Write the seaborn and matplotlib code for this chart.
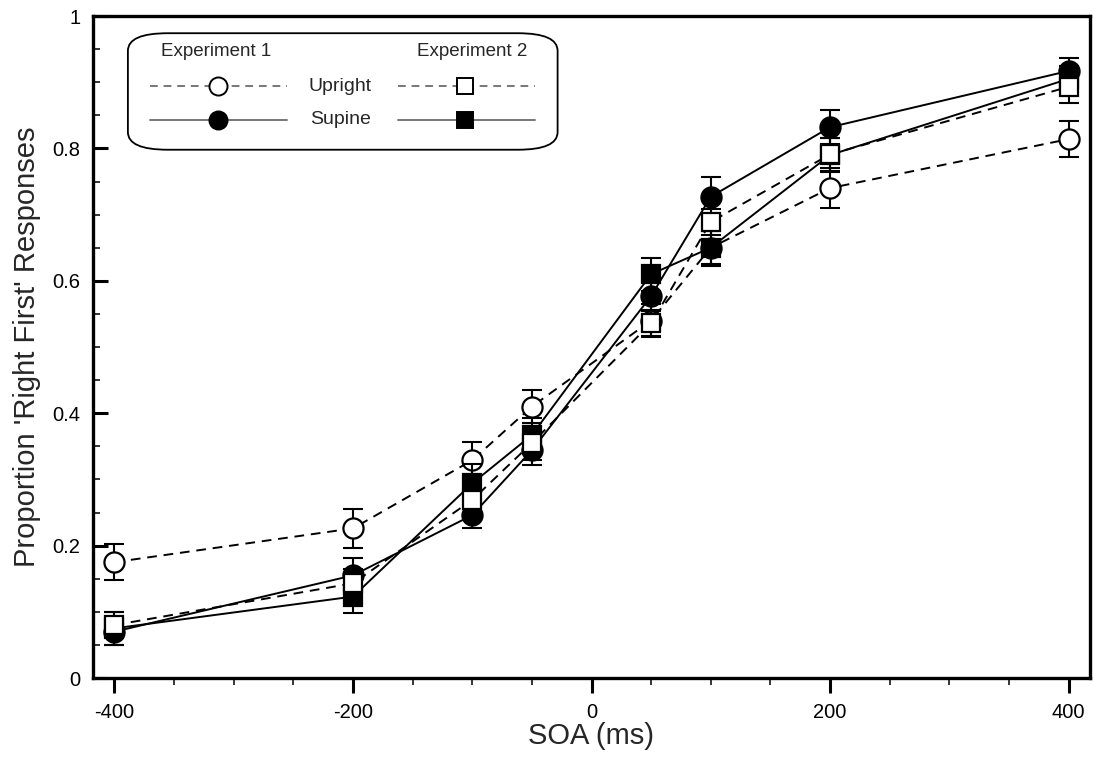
import numpy as np
import matplotlib
matplotlib.use("Agg")
import matplotlib.pyplot as plt
import seaborn as sns
import pandas as pd
from matplotlib.patches import FancyBboxPatch
from matplotlib.lines import Line2D

# ---- data ----
soa = [-400, -200, -100, -50, 50, 100, 200, 400]
exp1_upright = [0.175, 0.226, 0.329, 0.410, 0.540, 0.650, 0.740, 0.814]
exp1_upright_err = [0.027, 0.029, 0.028, 0.025, 0.025, 0.028, 0.030, 0.027]
exp1_supine = [0.070, 0.155, 0.246, 0.344, 0.577, 0.727, 0.832, 0.917]
exp1_supine_err = [0.020, 0.026, 0.020, 0.022, 0.022, 0.030, 0.026, 0.020]
exp2_upright = [0.080, 0.143, 0.269, 0.355, 0.536, 0.689, 0.791, 0.893]
exp2_upright_err = [0.020, 0.022, 0.026, 0.025, 0.020, 0.020, 0.025, 0.025]
exp2_supine = [0.075, 0.123, 0.294, 0.367, 0.610, 0.650, 0.790, 0.905]
exp2_supine_err = [0.025, 0.025, 0.030, 0.026, 0.025, 0.025, 0.025, 0.020]

x_ticks = [-400, -200, 0, 200, 400]
y_ticks = [0, 0.2, 0.4, 0.6, 0.8, 1.0]
y_ticklabels = ["0", "0.2", "0.4", "0.6", "0.8", "1"]

sns.set_theme(style="ticks")
plt.rcParams['font.family'] = ['Liberation Sans', 'DejaVu Sans']

fig = plt.figure(figsize=(10.94, 7.60), dpi=100)
ax = fig.add_axes([93/1094, 82/760, 997/1094, 662/760])

series = [
    (exp1_upright, exp1_upright_err, "o", "white", (0, (5, 3.5)), 2),
    (exp1_supine, exp1_supine_err, "o", "black", "-", 3),
    (exp2_supine, exp2_supine_err, "s", "black", "-", 4),
    (exp2_upright, exp2_upright_err, "s", "white", (0, (5, 3.5)), 5),
]

for vals, errs, mk, fc, ls, z in series:
    df = pd.DataFrame({"SOA": soa, "P": vals})
    ax.errorbar(soa, vals, yerr=errs, fmt="none", ecolor="black", elinewidth=1.5,
                capsize=7, capthick=1.5, zorder=z)
    sns.lineplot(data=df, x="SOA", y="P", ax=ax, color="black", linewidth=1.4,
                 linestyle=ls, marker=mk, markersize=14.5 if mk == "o" else 13,
                 markerfacecolor=fc, markeredgecolor="black", markeredgewidth=1.6,
                 zorder=z + 0.5, legend=False)
    ax.lines[-1].set_linestyle(ls)

ax.set_xlim(-418, 418)
ax.set_ylim(0, 1)
ax.set_xticks(x_ticks)
ax.set_xticklabels([str(v) for v in x_ticks], fontsize=14.5)
ax.set_xticks(np.arange(-400, 401, 50), minor=True)
ax.set_yticks(y_ticks)
ax.set_yticklabels(y_ticklabels, fontsize=14.5)
ax.set_yticks(np.arange(0, 1.001, 0.05), minor=True)

ax.tick_params(axis="x", which="major", direction="out", length=11, width=2.2, pad=7, colors="black")
ax.tick_params(axis="x", which="minor", direction="out", length=5, width=1.3)
ax.tick_params(axis="y", which="major", direction="in", length=11, width=2.2, pad=9, colors="black")
ax.tick_params(axis="y", which="minor", direction="in", length=5, width=1.3)

for sp in ax.spines.values():
    sp.set_linewidth(2.4)
    sp.set_color("black")
    sp.set_visible(True)

ax.set_xlabel("SOA (ms)", fontsize=21, labelpad=0)
ax.set_ylabel("Proportion 'Right First' Responses", fontsize=21, labelpad=8)
ax.grid(False)

# ---- legend (custom layout) ----
box = FancyBboxPatch((0.035, 0.798), 0.431, 0.176, boxstyle="round,pad=0,rounding_size=0.04",
                     transform=ax.transAxes, facecolor="white", edgecolor="black",
                     linewidth=1.3, zorder=10, mutation_aspect=662/997)
ax.add_patch(box)
ax.text(0.123, 0.946, "Experiment 1", transform=ax.transAxes, ha="center", va="center", fontsize=13.5, zorder=11)
ax.text(0.380, 0.946, "Experiment 2", transform=ax.transAxes, ha="center", va="center", fontsize=13.5, zorder=11)
ax.text(0.248, 0.894, "Upright", transform=ax.transAxes, ha="center", va="center", fontsize=14, zorder=11)
ax.text(0.248, 0.843, "Supine", transform=ax.transAxes, ha="center", va="center", fontsize=14, zorder=11)

leg_rows = [
    (0.057, 0.195, 0.125, 0.894, "o", "white", (0, (4, 3))),
    (0.057, 0.195, 0.125, 0.843, "o", "black", "-"),
    (0.306, 0.443, 0.373, 0.894, "s", "white", (0, (4, 3))),
    (0.306, 0.443, 0.373, 0.843, "s", "black", "-"),
]
for x0, x1, xm, yy, mk, fc, ls in leg_rows:
    ax.add_line(Line2D([x0, x1], [yy, yy], transform=ax.transAxes, color="#777777",
                       linewidth=1.4, linestyle=ls, zorder=11))
    ax.add_line(Line2D([xm], [yy], transform=ax.transAxes, marker=mk, markersize=13 if mk == "o" else 12,
                       markerfacecolor=fc, markeredgecolor="black", markeredgewidth=1.4,
                       linestyle="none", zorder=12))

fig.savefig("out.png", dpi=100)
